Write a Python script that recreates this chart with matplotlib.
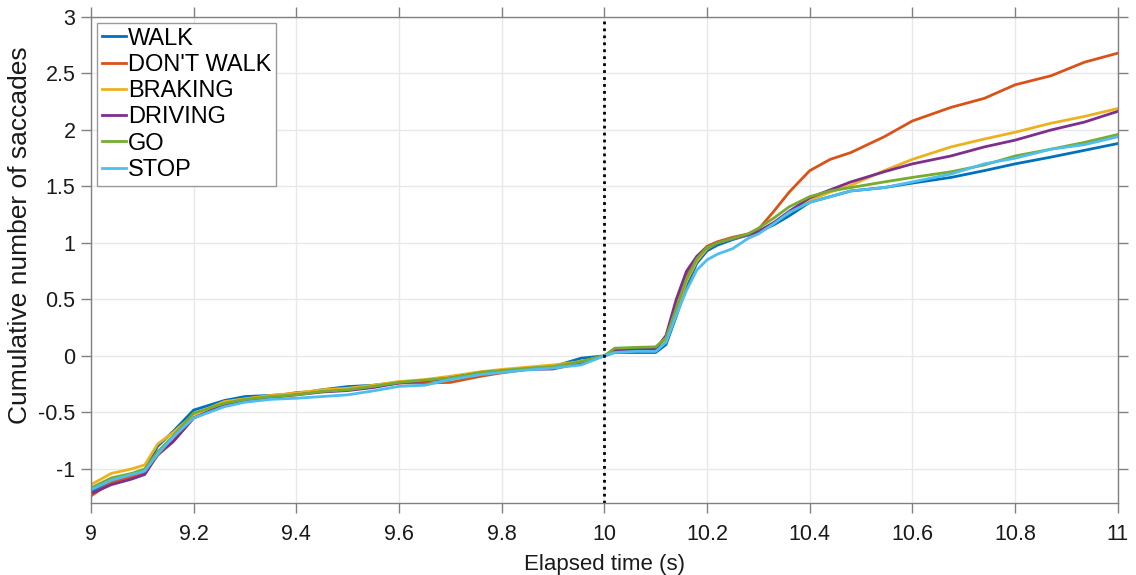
import matplotlib
matplotlib.use("Agg")
import matplotlib.pyplot as plt

plt.rcParams['font.family'] = ['Liberation Sans', 'DejaVu Sans']

# ---- data ----
t = [9.00, 9.04, 9.08, 9.105, 9.13, 9.16, 9.20, 9.26, 9.30, 9.35, 9.40, 9.45,
     9.50, 9.55, 9.60, 9.65, 9.70, 9.76, 9.80, 9.85, 9.90, 9.955, 10.00, 10.02,
     10.06, 10.10, 10.12, 10.14, 10.16, 10.18, 10.20, 10.22, 10.25, 10.28, 10.30,
     10.33, 10.36, 10.40, 10.44, 10.48, 10.545, 10.60, 10.675, 10.74, 10.80,
     10.87, 10.935, 11.00]

walk = [-1.20, -1.105, -1.05, -1.01, -0.80, -0.67, -0.48, -0.395, -0.36, -0.35, -0.335, -0.30,
        -0.272, -0.26, -0.235, -0.22, -0.196, -0.145, -0.13, -0.11, -0.095, -0.02, 0.0, 0.03,
        0.03, 0.03, 0.10, 0.35, 0.62, 0.82, 0.93, 0.98, 1.03, 1.07, 1.10,
        1.16, 1.24, 1.36, 1.41, 1.46, 1.49, 1.53, 1.58, 1.64, 1.70,
        1.76, 1.82, 1.88]
dont_walk = [-1.24, -1.12, -1.07, -1.04, -0.88, -0.76, -0.55, -0.43, -0.38, -0.36, -0.325, -0.31,
             -0.296, -0.27, -0.24, -0.24, -0.235, -0.18, -0.15, -0.12, -0.10, -0.05, 0.0, 0.04,
             0.05, 0.05, 0.14, 0.42, 0.72, 0.88, 0.97, 1.01, 1.05, 1.08, 1.12,
             1.28, 1.45, 1.64, 1.74, 1.80, 1.94, 2.08, 2.20, 2.28, 2.40,
             2.48, 2.60, 2.68]
braking = [-1.14, -1.04, -1.00, -0.965, -0.78, -0.68, -0.52, -0.405, -0.38, -0.35, -0.33, -0.30,
           -0.287, -0.26, -0.227, -0.21, -0.18, -0.14, -0.12, -0.10, -0.08, -0.05, 0.0, 0.04,
           0.05, 0.05, 0.13, 0.40, 0.66, 0.84, 0.95, 1.00, 1.04, 1.07, 1.10,
           1.18, 1.27, 1.38, 1.45, 1.51, 1.64, 1.74, 1.85, 1.92, 1.98,
           2.06, 2.12, 2.19]
driving = [-1.22, -1.14, -1.09, -1.05, -0.87, -0.76, -0.55, -0.434, -0.40, -0.37, -0.345, -0.32,
           -0.307, -0.28, -0.24, -0.22, -0.196, -0.15, -0.135, -0.12, -0.116, -0.06, 0.0, 0.05,
           0.06, 0.06, 0.18, 0.50, 0.75, 0.88, 0.96, 1.00, 1.04, 1.07, 1.10,
           1.18, 1.28, 1.40, 1.47, 1.54, 1.63, 1.70, 1.77, 1.85, 1.91,
           2.00, 2.07, 2.165]
go = [-1.17, -1.08, -1.04, -1.00, -0.85, -0.71, -0.507, -0.42, -0.385, -0.36, -0.345, -0.315,
      -0.30, -0.27, -0.235, -0.215, -0.196, -0.145, -0.13, -0.11, -0.095, -0.05, 0.0, 0.068,
      0.075, 0.08, 0.16, 0.42, 0.68, 0.86, 0.96, 1.00, 1.04, 1.08, 1.13,
      1.22, 1.32, 1.41, 1.46, 1.49, 1.54, 1.58, 1.63, 1.69, 1.77,
      1.83, 1.89, 1.96]
stop = [-1.186, -1.10, -1.05, -1.02, -0.87, -0.72, -0.55, -0.45, -0.41, -0.385, -0.375, -0.36,
        -0.345, -0.31, -0.27, -0.26, -0.21, -0.165, -0.146, -0.125, -0.108, -0.08, 0.0, 0.03,
        0.04, 0.04, 0.12, 0.36, 0.58, 0.76, 0.85, 0.90, 0.95, 1.04, 1.08,
        1.17, 1.27, 1.36, 1.41, 1.46, 1.49, 1.54, 1.61, 1.70, 1.75,
        1.83, 1.87, 1.94]

labels = ["WALK", "DON'T WALK", "BRAKING", "DRIVING", "GO", "STOP"]
series = [walk, dont_walk, braking, driving, go, stop]
colors = ["#0072BD", "#D95319", "#EDB120", "#7E2F8E", "#77AC30", "#4DBEEE"]

xticks = [9, 9.2, 9.4, 9.6, 9.8, 10, 10.2, 10.4, 10.6, 10.8, 11]
xticklabels = ["9", "9.2", "9.4", "9.6", "9.8", "10", "10.2", "10.4", "10.6", "10.8", "11"]
yticks = [-1, -0.5, 0, 0.5, 1, 1.5, 2, 2.5, 3]
yticklabels = ["-1", "-0.5", "0", "0.5", "1", "1.5", "2", "2.5", "3"]

# ---- figure ----
fig = plt.figure(figsize=(11.36, 5.75), dpi=100)
ax = fig.add_axes([0.080, 0.1257, 0.904, 0.8447])

for y, lab, c in zip(series, labels, colors):
    ax.plot(t, y, color=c, lw=2.0, label=lab)

ax.axvline(10, color="black", lw=2.0, linestyle=(0, (1, 1.5)))

ax.set_xlim(9, 11)
ax.set_ylim(-1.3, 3)
ax.set_xticks(xticks)
ax.set_xticklabels(xticklabels)
ax.set_yticks(yticks)
ax.set_yticklabels(yticklabels)

edge = "#808080"
for s in ax.spines.values():
    s.set_color(edge)
    s.set_linewidth(1.0)
ax.tick_params(direction="out", length=7, width=1.0, color=edge,
               labelsize=15.5, labelcolor="#1a1a1a", top=True, right=True,
               labeltop=False, labelright=False)
ax.tick_params(axis="x", pad=8)
ax.tick_params(axis="y", pad=4)
ax.grid(True, color="#e8e8e8", lw=1.0)
ax.set_axisbelow(True)

ax.set_xlabel("Elapsed time (s)", fontsize=16, color="#1a1a1a", labelpad=7)
ax.set_ylabel("Cumulative number of saccades", fontsize=19, color="#1a1a1a")
ax.yaxis.set_label_coords(-0.057, 0.55)

leg = ax.legend(loc="upper left", bbox_to_anchor=(0.0063, 0.988), borderaxespad=0,
                fontsize=17, frameon=True, fancybox=False, framealpha=1,
                edgecolor="#9a9a9a", handlelength=1.0, handletextpad=0.1,
                labelspacing=0.18, borderpad=0.2)
leg.get_frame().set_linewidth(1.0)

fig.savefig("out.png", dpi=100)
